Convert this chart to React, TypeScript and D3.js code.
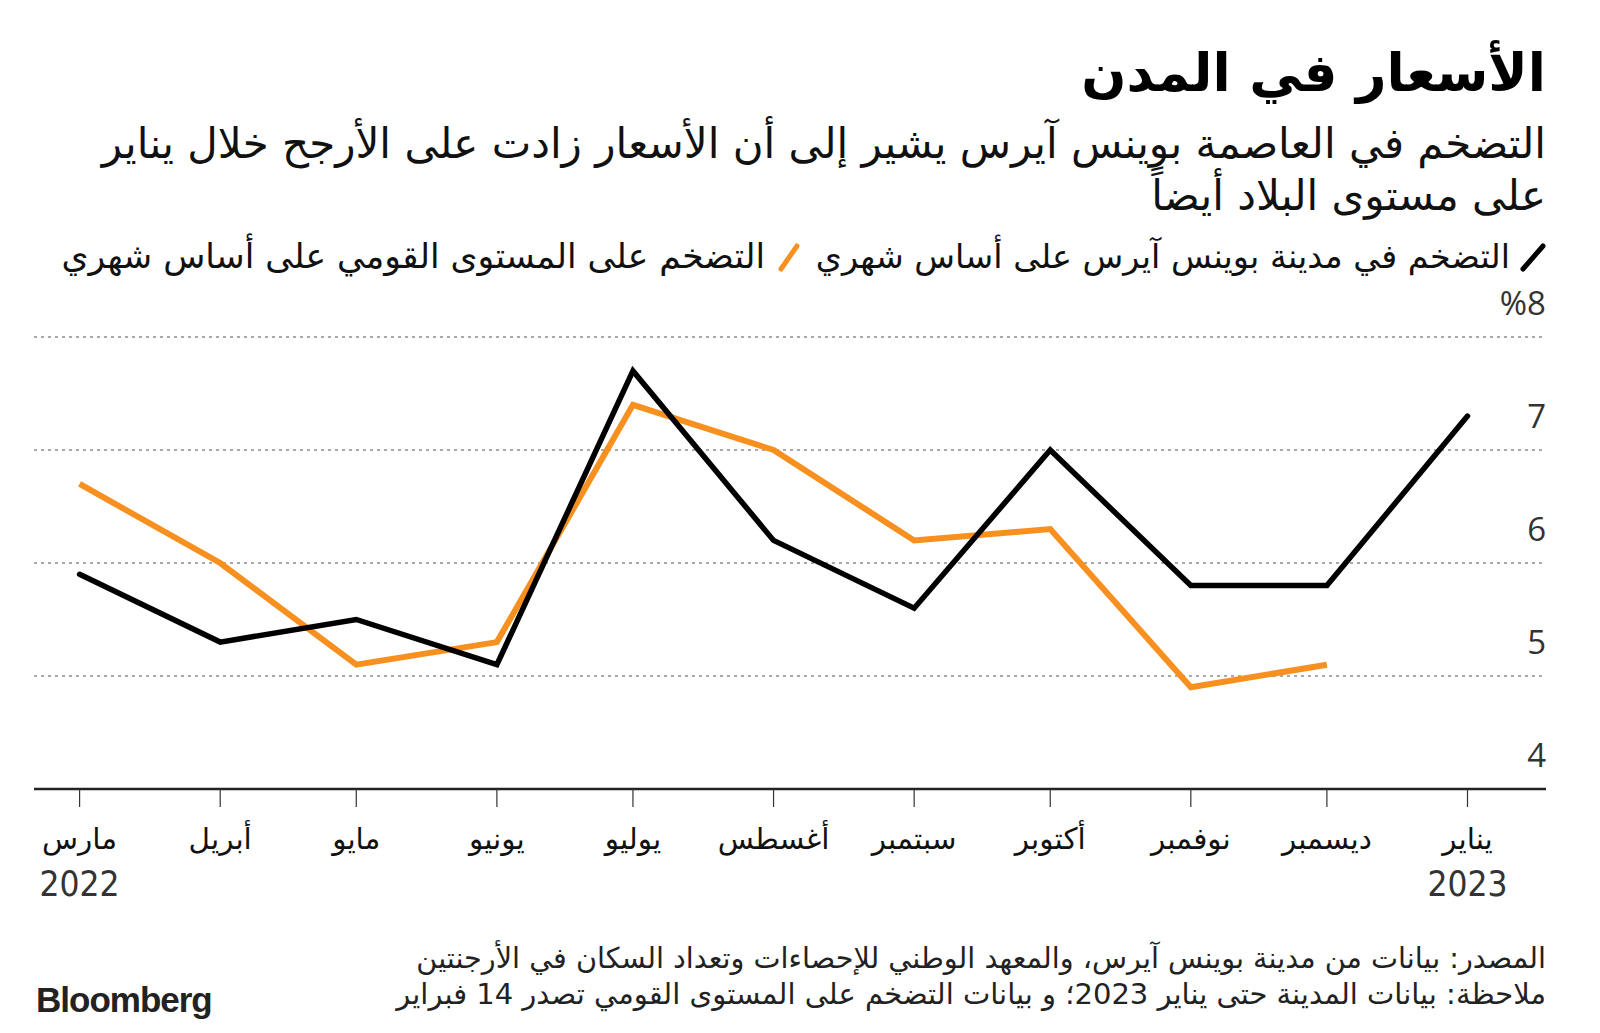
import React from "react";
import * as d3 from "d3";

const months = ["2022-03-01","2022-04-01","2022-05-01","2022-06-01","2022-07-01","2022-08-01","2022-09-01","2022-10-01","2022-11-01","2022-12-01","2023-01-01"];
const monthLabels = ["مارس","أبريل","مايو","يونيو","يوليو","أغسطس","سبتمبر","أكتوبر","نوفمبر","ديسمبر","يناير"];
const cityValues = [5.9, 5.3, 5.5, 5.1, 7.7, 6.2, 5.6, 7.0, 5.8, 5.8, 7.3];
const nationalValues = [6.7, 6.0, 5.1, 5.3, 7.4, 7.0, 6.2, 6.3, 4.9, 5.1, null];
const yTicks = [4, 5, 6, 7, 8];
const gridValues = [5, 6, 7, 8];

const title = "الأسعار في المدن";
const subtitle1 = "التضخم في العاصمة بوينس آيرس يشير إلى أن الأسعار زادت على الأرجح خلال يناير";
const subtitle2 = "على مستوى البلاد أيضاً";
const legendCity = "التضخم في مدينة بوينس آيرس على أساس شهري";
const legendNational = "التضخم على المستوى القومي على أساس شهري";
const source1 = "المصدر: بيانات من مدينة بوينس آيرس، والمعهد الوطني للإحصاءات وتعداد السكان في الأرجنتين";
const source2 = "ملاحظة: بيانات المدينة حتى يناير 2023؛ و بيانات التضخم على المستوى القومي تصدر 14 فبراير";

const W = 1600;
const H = 1033;
const ORANGE = "#F7901E";
const AR = "'DejaVu Sans', sans-serif";
const NUM = "'Open Sans', 'Noto Sans', sans-serif";

export default function App() {
  const parse = d3.timeParse("%Y-%m-%d");
  const dates = months.map((m) => parse(m) as Date);
  const x = d3.scaleTime().domain([dates[0], dates[dates.length - 1]]).range([79.6, 1467.5]);
  const y = d3.scaleLinear().domain([4, 8]).range([789, 337]);
  const left = 34;
  const right = 1546;

  const line = d3
    .line<[Date, number | null]>()
    .defined((d) => d[1] != null)
    .x((d) => x(d[0]))
    .y((d) => y(d[1] as number));

  const cityPath = line(dates.map((d, i) => [d, cityValues[i]]));
  const natPath = line(dates.map((d, i) => [d, nationalValues[i]]));

  return (
    <svg width={W} height={H} viewBox={`0 0 ${W} ${H}`} style={{ display: "block", position: "absolute", left: 0, top: 0, background: "#fff" }}>
      <rect width={W} height={H} fill="#fff" />
      <text x={right} y={91} direction="rtl" textAnchor="start" fontFamily={AR} fontWeight="bold" fontSize={53} fill="#000">{title}</text>
      <text x={right} y={158} direction="rtl" textAnchor="start" fontFamily={AR} fontSize={42} fill="#111">{subtitle1}</text>
      <text x={right} y={210} direction="rtl" textAnchor="start" fontFamily={AR} fontSize={42} fill="#111">{subtitle2}</text>

      {/* legend */}
      <line x1={1523} y1={269} x2={1543} y2={246} stroke="#000" strokeWidth={5} strokeLinecap="round" />
      <text x={1510} y={268} direction="rtl" textAnchor="start" fontFamily={AR} fontSize={33.4} fill="#111">{legendCity}</text>
      <line x1={781} y1={269} x2={797} y2={246} stroke={ORANGE} strokeWidth={5} strokeLinecap="round" />
      <text x={765} y={268} direction="rtl" textAnchor="start" fontFamily={AR} fontSize={34.5} fill="#111">{legendNational}</text>

      {/* grid */}
      {gridValues.map((v) => (
        <line key={v} x1={left} x2={right} y1={y(v)} y2={y(v)} stroke="#aaa" strokeWidth={2} strokeDasharray="3,4" />
      ))}
      {yTicks.map((v) => (
        <text key={v} x={right} y={y(v) - 22} textAnchor="end" fontFamily={NUM} fontSize={33} fill="#333">
          {v === 8 ? "%8" : String(v)}
        </text>
      ))}

      {/* x axis */}
      <line x1={left} x2={right} y1={y(4)} y2={y(4)} stroke="#222" strokeWidth={2.5} />
      {dates.map((d, i) => (
        <g key={i}>
          <line x1={x(d)} x2={x(d)} y1={y(4)} y2={y(4) + 18} stroke="#333" strokeWidth={1.2} />
          <text x={x(d)} y={849} textAnchor="middle" fontFamily={AR} fontSize={29.5} fill="#111">{monthLabels[i]}</text>
        </g>
      ))}
      <text x={x(dates[0])} y={896} textAnchor="middle" fontFamily="'DejaVu Sans Condensed', 'DejaVu Sans', sans-serif" fontSize={35} fill="#333">2022</text>
      <text x={x(dates[dates.length - 1])} y={896} textAnchor="middle" fontFamily="'DejaVu Sans Condensed', 'DejaVu Sans', sans-serif" fontSize={35} fill="#333">2023</text>

      {/* lines */}
      <path d={natPath || ""} fill="none" stroke={ORANGE} strokeWidth={6} strokeLinejoin="miter" strokeLinecap="butt" />
      <path d={cityPath || ""} fill="none" stroke="#000" strokeWidth={5.5} strokeLinejoin="miter" strokeLinecap="round" />

      {/* footer */}
      <text x={right} y={968} direction="rtl" textAnchor="start" fontFamily={AR} fontSize={28.7} fill="#222">{source1}</text>
      <text x={right} y={1004} direction="rtl" textAnchor="start" fontFamily={AR} fontSize={29} fill="#222">{source2}</text>
      <text x={36} y={1012} fontFamily="'Liberation Sans', Arial, sans-serif" fontWeight="bold" fontSize={35} letterSpacing={-1} fill="#222">Bloomberg</text>
    </svg>
  );
}
